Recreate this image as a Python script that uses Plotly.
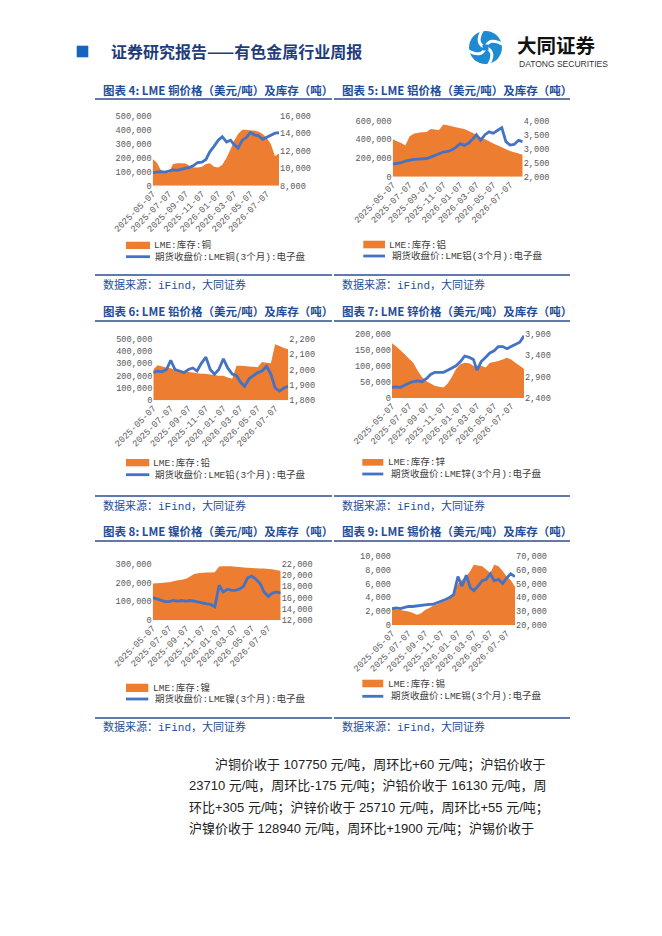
## LME base metals: price vs inventory, six small dual-axis charts on one report page

import plotly.graph_objects as go

# the page body adds an 8px margin, so the figure is a bit smaller and shifted
PAD = 8
W, H = 662 - 2 * PAD, 936 - 2 * PAD


def px(x):
    return (x - PAD) / W


def py(y):
    return 1 - (y - PAD) / H


# half-monthly sample dates
dates = [
    "2025-05-07", "2025-05-22", "2025-06-07", "2025-06-22", "2025-07-07", "2025-07-22",
    "2025-08-07", "2025-08-22", "2025-09-07", "2025-09-22", "2025-10-07", "2025-10-22",
    "2025-11-07", "2025-11-22", "2025-12-07", "2025-12-22", "2026-01-07", "2026-01-22",
    "2026-02-07", "2026-02-22", "2026-03-07", "2026-03-22", "2026-04-07", "2026-04-22",
    "2026-05-07", "2026-05-22", "2026-06-07", "2026-06-22", "2026-07-07", "2026-07-22",
    "2026-08-07", "2026-08-22",
]
tick_dates = ["2025-05-07", "2025-07-07", "2025-09-07", "2025-11-07",
              "2026-01-07", "2026-03-07", "2026-05-07", "2026-07-07"]

# copper
cu_stock = [190000, 165000, 110000, 95000, 95000, 155000, 160000, 160000, 158000, 140000,
            130000, 130000, 135000, 155000, 160000, 135000, 130000, 150000, 200000, 260000,
            320000, 370000, 400000, 400000, 395000, 395000, 385000, 370000, 340000, 300000,
            210000, 230000]
cu_price = [9500, 9550, 9600, 9550, 9700, 9800, 9750, 9900, 10000, 10100, 10300, 10650,
            10700, 11000, 11900, 12500, 13200, 13600, 13000, 13200, 12700, 12300, 13200,
            13500, 14100, 13800, 13700, 13300, 13500, 13700, 14000, 14050]

# aluminium
al_stock = [400000, 380000, 360000, 335000, 430000, 460000, 470000, 475000, 480000, 510000,
            505000, 500000, 560000, 550000, 540000, 530000, 520000, 510000, 490000, 468000,
            446000, 424000, 402000, 380000, 357000, 337000, 316000, 295000, 275000, 262000,
            248000, 235000]
al_price = [2450, 2480, 2500, 2560, 2600, 2620, 2630, 2640, 2650, 2700, 2760, 2820, 2880,
            2900, 2950, 3050, 3180, 3120, 3200, 3350, 3500, 3300, 3500, 3600, 3550, 3650,
            3750, 3250, 3130, 3150, 3300, 3250]

# lead
pb_stock = [250000, 285000, 275000, 265000, 260000, 245000, 240000, 235000, 230000, 225000,
            220000, 215000, 215000, 210000, 205000, 200000, 200000, 185000, 175000, 280000,
            280000, 278000, 275000, 272000, 268000, 310000, 305000, 300000, 455000, 440000,
            425000, 415000]
pb_price = [1980, 1990, 1985, 2000, 2060, 2000, 1990, 1980, 2000, 2010, 1990, 2040, 2080,
            2000, 1970, 2000, 2070, 2010, 1970, 1960, 1920, 1890, 1940, 1960, 1980, 1990,
            2020, 1970, 1880, 1860, 1880, 1890]

# zinc
zn_stock = [170000, 160000, 148000, 135000, 122000, 110000, 85000, 65000, 52000, 45000,
            38000, 35000, 33000, 45000, 65000, 90000, 105000, 110000, 108000, 100000, 95000,
            100000, 95000, 110000, 112000, 115000, 120000, 125000, 120000, 110000, 100000,
            90000]
zn_price = [2650, 2660, 2650, 2700, 2750, 2780, 2800, 2780, 2850, 2950, 3000, 3000, 3000,
            3050, 3100, 3150, 3250, 3380, 3350, 3300, 3050, 3250, 3350, 3450, 3500, 3600,
            3600, 3550, 3600, 3650, 3700, 3850]

# nickel
ni_stock = [195000, 197000, 198000, 200000, 202000, 207000, 212000, 215000, 220000, 232000,
            245000, 250000, 252000, 253000, 254000, 255000, 285000, 286000, 287000, 286000,
            284000, 282000, 280000, 278000, 277000, 276000, 275000, 274000, 272000, 270000,
            265000, 263000]
ni_price = [16000, 15800, 15600, 15300, 15300, 15500, 15400, 15500, 15400, 15500, 15400,
            15200, 15100, 14900, 14800, 14400, 18200, 17000, 17500, 17300, 17300, 17500,
            18000, 19500, 19800, 19300, 18500, 17000, 16200, 16800, 17000, 16800]

# tin (series ends earlier)
sn_stock = [2500, 2300, 2200, 2100, 2000, 1800, 1500, 1700, 2200, 2500, 2800, 3000, 3300,
            3500, 3800, 4500, 6000, 6500, 7000, 7800, 8700, 8600, 8500, 8000, 7500, 8700,
            8500, 7800, 7000, 6500, 5500]
sn_price = [32000, 32500, 32000, 33000, 33500, 33500, 34000, 34000, 34500, 35000, 35000,
            36000, 37000, 38500, 40000, 42000, 55000, 48000, 56000, 47000, 45000, 48000,
            52000, 53000, 57000, 52000, 53000, 50000, 54000, 57000, 55000]

ORANGE = "#ED7D31"
BLUE = "#4472C4"
TITLE_BLUE = "#1F4E9A"
RULE = "#2E4E8C"
TICK_FONT = dict(family="Liberation Mono, Noto Sans CJK SC", size=8.6, color="#595959")

charts = [
    dict(title="图表 4: LME 铜价格（美元/吨）及库存（吨）", metal="铜", stock=cu_stock, price=cu_price,
         plot=(152.7, 115.7, 279.0, 185.7), left=(0, 500000, 100000), right=(8000, 16000, 2000),
         col=0, row=0, leg=(126, 241.7, 150, 249, 152, 256.7, 152.7)),
    dict(title="图表 5: LME 铝价格（美元/吨）及库存（吨）", metal="铝", stock=al_stock, price=al_price,
         plot=(392.7, 120.7, 522.7, 176.7), left=(0, 600000, 200000), right=(2000, 4000, 500),
         col=1, row=0, leg=(363.3, 240.7, 385, 248.3, 387.3, 256, 390)),
    dict(title="图表 6: LME 铅价格（美元/吨）及库存（吨）", metal="铅", stock=pb_stock, price=pb_price,
         plot=(153.3, 338.7, 288.3, 400.3), left=(0, 500000, 100000), right=(1800, 2200, 100),
         col=0, row=1, leg=(126, 459, 149.3, 466.3, 151, 474.7, 152.7)),
    dict(title="图表 7: LME 锌价格（美元/吨）及库存（吨）", metal="锌", stock=zn_stock, price=zn_price,
         plot=(392, 333.7, 524, 398), left=(0, 200000, 50000), right=(2400, 3900, 500),
         col=1, row=1, leg=(362.3, 459, 383.3, 465.7, 386, 474, 389.3)),
    dict(title="图表 8: LME 镍价格（美元/吨）及库存（吨）", metal="镍", stock=ni_stock, price=ni_price,
         plot=(152.7, 563.7, 280.7, 620.3), left=(0, 300000, 100000), right=(12000, 22000, 2000),
         col=0, row=2, leg=(126, 683.7, 148.3, 692, 151, 699, 152.7)),
    dict(title="图表 9: LME 锡价格（美元/吨）及库存（吨）", metal="锡", stock=sn_stock, price=sn_price,
         plot=(392, 555.7, 515, 625.3), left=(0, 10000, 2000), right=(20000, 70000, 10000),
         col=1, row=2, leg=(362.3, 679.7, 383.3, 687.3, 386, 696.3, 389.3)),
]

row_title_y = [90, 311, 531]
row_top_rule = [99, 321, 541]
row_bottom_rule = [275, 496, 718]
row_source_y = [285, 506, 727]
col_text_x = [100.5, 340.5]
col_rule_x = [(95, 332), (334, 570)]

fig = go.Figure()
layout = {}
shapes = []
annotations = []

for c, ch in enumerate(charts):
    n = c + 1
    yl = 2 * c + 1
    yr = 2 * c + 2
    npts = len(ch["stock"])
    xs = dates[:npts]
    x0, y0, x1, y1 = ch["plot"]

    fig.add_trace(go.Scatter(
        x=xs, y=ch["stock"], mode="none", fill="tozeroy", fillcolor=ORANGE,
        xaxis=f"x{n}", yaxis=f"y{yl}", showlegend=False, hoverinfo="skip",
    ))
    fig.add_trace(go.Scatter(
        x=xs, y=ch["price"], mode="lines", line=dict(color=BLUE, width=2.8),
        xaxis=f"x{n}", yaxis=f"y{yr}", showlegend=False,
    ))

    lo, hi, step = ch["left"]
    rlo, rhi, rstep = ch["right"]
    layout[f"xaxis{n}"] = dict(
        domain=[px(x0), px(x1)], anchor=f"y{yl}", type="date", automargin=False,
        range=[xs[0], xs[-1]], tickvals=tick_dates, ticktext=tick_dates,
        tickangle=-45, tickfont=dict(TICK_FONT, size=9), showgrid=False,
        zeroline=False, showline=False, ticks="",
    )
    layout[f"yaxis{yl}"] = dict(
        domain=[py(y1), py(y0)], anchor=f"x{n}", range=[lo, hi], automargin=False,
        tickvals=list(range(lo, hi + 1, step)), tickformat=",d", tickfont=TICK_FONT,
        showgrid=False, zeroline=False, showline=False, ticks="",
    )
    layout[f"yaxis{yr}"] = dict(
        overlaying=f"y{yl}", side="right", anchor=f"x{n}", range=[rlo, rhi], automargin=False,
        tickvals=list(range(rlo, rhi + 1, rstep)), tickformat=",d", tickfont=TICK_FONT,
        showgrid=False, zeroline=False, showline=False, ticks="",
    )

    # title, rules and source line
    r, col = ch["row"], ch["col"]
    rx0, rx1 = col_rule_x[col]
    annotations.append(dict(
        x=px(col_text_x[col]), y=py(row_title_y[r]), xref="paper", yref="paper",
        text=f"<b>{ch['title']}</b>", showarrow=False, xanchor="left", yanchor="middle",
        font=dict(family="Noto Sans CJK SC", size=11.5, color=TITLE_BLUE),
    ))
    for ry in (row_top_rule[r], row_bottom_rule[r]):
        shapes.append(dict(type="line", xref="paper", yref="paper",
                           x0=px(rx0), x1=px(rx1), y0=py(ry), y1=py(ry),
                           line=dict(color=RULE, width=1.3)))
    annotations.append(dict(
        x=px(col_text_x[col]), y=py(row_source_y[r]), xref="paper", yref="paper",
        text="数据来源：iFind，大同证券", showarrow=False, xanchor="left", yanchor="middle",
        font=dict(family="Liberation Mono, Noto Sans CJK SC", size=11, color=TITLE_BLUE),
    ))

    # hand-drawn legend
    lx0, ly0, lx1, ly1, tx, liney, ltx = ch["leg"]
    shapes.append(dict(type="rect", xref="paper", yref="paper",
                       x0=px(lx0), x1=px(lx1), y0=py(ly1), y1=py(ly0),
                       fillcolor=ORANGE, line=dict(width=0)))
    shapes.append(dict(type="line", xref="paper", yref="paper",
                       x0=px(lx0), x1=px(lx1), y0=py(liney), y1=py(liney),
                       line=dict(color=BLUE, width=2.8)))
    leg_font = dict(family="Liberation Mono, Noto Sans CJK SC", size=9.5, color="#404040")
    annotations.append(dict(
        x=px(tx), y=py((ly0 + ly1) / 2), xref="paper", yref="paper",
        text=f"LME:库存:{ch['metal']}", showarrow=False, xanchor="left", yanchor="middle",
        font=leg_font,
    ))
    annotations.append(dict(
        x=px(ltx), y=py(liney), xref="paper", yref="paper",
        text=f"期货收盘价:LME{ch['metal']}(3个月):电子盘", showarrow=False,
        xanchor="left", yanchor="middle", font=leg_font,
    ))

# page header
shapes.append(dict(type="rect", xref="paper", yref="paper", x0=px(76.7), x1=px(88.3),
                   y0=py(57.3), y1=py(45.7), fillcolor="#1565C0", line=dict(width=0)))
annotations.append(dict(
    x=px(109), y=py(51), xref="paper", yref="paper", showarrow=False,
    text="<b>证券研究报告——有色金属行业周报</b>", xanchor="left", yanchor="middle",
    font=dict(family="Noto Sans CJK SC", size=16, color="#1F3D7A"),
))

# logo mark: blue disc with white swirl cuts
cx, cy, rad = 485.5, 47.5, 16.5
shapes.append(dict(type="circle", xref="paper", yref="paper",
                   x0=px(cx - rad), x1=px(cx + rad), y0=py(cy + rad), y1=py(cy - rad),
                   fillcolor="#1E8AD2", line=dict(width=0)))
swirl_v = (f"M {px(cx - 3)} {py(cy - rad - 1)} Q {px(cx - 11)} {py(cy - 4)} {px(cx)} {py(cy)} "
           f"Q {px(cx + 11)} {py(cy + 4)} {px(cx + 3)} {py(cy + rad + 1)}")
swirl_h = (f"M {px(cx - rad - 1)} {py(cy + 3)} Q {px(cx - 4)} {py(cy + 11)} {px(cx)} {py(cy)} "
           f"Q {px(cx + 4)} {py(cy - 11)} {px(cx + rad + 1)} {py(cy - 3)}")
for p in (swirl_v, swirl_h):
    shapes.append(dict(type="path", xref="paper", yref="paper", path=p,
                       line=dict(color="white", width=3)))
shapes.append(dict(type="rect", xref="paper", yref="paper",
                   x0=px(cx - 3), x1=px(cx + 3), y0=py(cy + 3), y1=py(cy - 3),
                   fillcolor="#1E8AD2", line=dict(width=0)))
annotations.append(dict(
    x=px(515), y=py(44.5), xref="paper", yref="paper", showarrow=False,
    text="<b>大同证券</b>", xanchor="left", yanchor="middle",
    font=dict(family="Noto Sans CJK SC", size=19.5, color="#111111"),
))
annotations.append(dict(
    x=px(516.5), y=py(64), xref="paper", yref="paper", showarrow=False,
    text="DATONG SECURITIES", xanchor="left", yanchor="middle",
    font=dict(family="Liberation Sans Narrow, Liberation Sans", size=8.5, color="#333333"),
))

# body paragraph
para = [
    (213, 765, "沪铜价收于 107750 元/吨，周环比+60 元/吨；沪铝价收于"),
    (187, 786, "23710 元/吨，周环比-175 元/吨；沪铅价收于 16130 元/吨，周"),
    (187, 808, "环比+305 元/吨；沪锌价收于 25710 元/吨，周环比+55 元/吨；"),
    (187, 829, "沪镍价收于 128940 元/吨，周环比+1900 元/吨；沪锡价收于"),
]
for x, y, t in para:
    annotations.append(dict(
        x=px(x), y=py(y), xref="paper", yref="paper", showarrow=False, text=t,
        xanchor="left", yanchor="middle",
        font=dict(family="Liberation Sans, Noto Sans CJK SC", size=13, color="#222222"),
    ))

fig.update_layout(
    width=W, height=H, margin=dict(l=0, r=0, t=0, b=0, autoexpand=False),
    paper_bgcolor="white", plot_bgcolor="white",
    shapes=shapes, annotations=annotations, **layout,
)

fig.write_html("out.html")
